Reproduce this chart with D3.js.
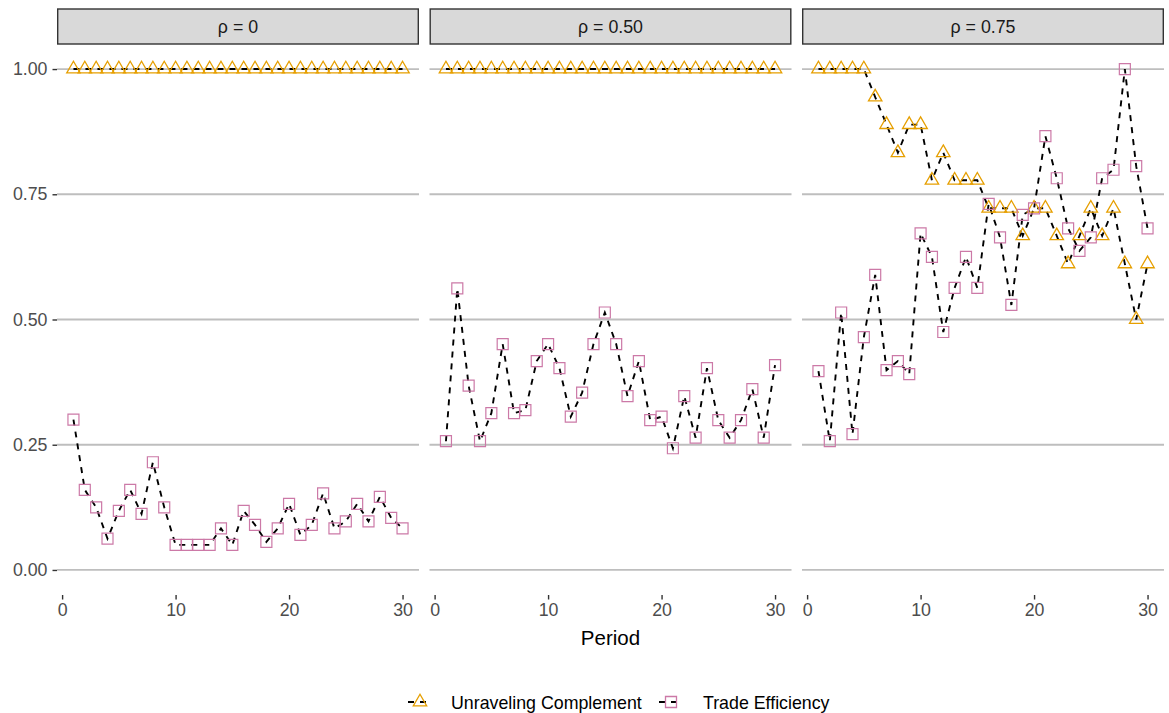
<!DOCTYPE html>
<html>
<head>
<meta charset="utf-8">
<script src="https://cdn.jsdelivr.net/npm/d3@7"></script>
<style>
  html, body { margin: 0; padding: 0; background: #ffffff; }
  svg { display: block; font-family: "Liberation Sans", Arial, sans-serif; }
</style>
</head>
<body>
<svg id="chart" width="1169" height="713"></svg>
<script>
// ---- data -------------------------------------------------------------
const periods = [1,2,3,4,5,6,7,8,9,10,11,12,13,14,15,16,17,18,19,20,21,22,23,24,25,26,27,28,29,30];
const panelLabels = ["ρ = 0", "ρ = 0.50", "ρ = 0.75"];
const seriesNames = ["Unraveling Complement", "Trade Efficiency"];

const unravelRho0  = [1,1,1,1,1,1,1,1,1,1,1,1,1,1,1,1,1,1,1,1,1,1,1,1,1,1,1,1,1,1];
const unravelRho50 = [1,1,1,1,1,1,1,1,1,1,1,1,1,1,1,1,1,1,1,1,1,1,1,1,1,1,1,1,1,1];
const unravelRho75 = [1,1,1,1,1,0.944,0.889,0.833,0.889,0.889,0.778,0.833,0.778,0.778,0.778,
                      0.722,0.722,0.722,0.667,0.722,0.722,0.667,0.611,0.667,0.722,0.667,0.722,0.611,0.5,0.611];

const tradeRho0  = [0.30,0.16,0.125,0.0625,0.118,0.16,0.112,0.215,0.125,0.05,0.05,0.05,0.05,0.083,0.05,
                    0.118,0.09,0.056,0.083,0.132,0.07,0.09,0.153,0.083,0.097,0.132,0.097,0.146,0.104,0.083];
const tradeRho50 = [0.257,0.562,0.368,0.257,0.313,0.451,0.313,0.319,0.417,0.451,0.403,0.306,0.354,0.451,0.514,
                    0.451,0.347,0.417,0.299,0.306,0.243,0.347,0.264,0.403,0.299,0.264,0.299,0.361,0.264,0.409];
const tradeRho75 = [0.397,0.257,0.514,0.271,0.465,0.589,0.399,0.417,0.391,0.672,0.625,0.475,0.563,0.625,0.563,
                    0.731,0.664,0.529,0.709,0.722,0.866,0.782,0.682,0.637,0.664,0.782,0.799,1.0,0.806,0.682];

const xTicks = [0, 10, 20, 30];
const yTicks = [0, 0.25, 0.50, 0.75, 1.00];

// ---- layout -----------------------------------------------------------
const svg = d3.select("#chart");
const colors = { "Unraveling Complement": "#E69F00", "Trade Efficiency": "#CC79A7" };
const panelLeft = 57, panelW = 362, panelGap = 10.5;
const panelTop = 44, panelBottom = 595;
const stripTop = 9;
const smallFont = 17.8;

const y = d3.scaleLinear().domain([-0.05, 1.05]).range([panelBottom, panelTop]);

const panels = [
  { label: panelLabels[0], unravel: unravelRho0,  trade: tradeRho0 },
  { label: panelLabels[1], unravel: unravelRho50, trade: tradeRho50 },
  { label: panelLabels[2], unravel: unravelRho75, trade: tradeRho75 }
];

const triangle = d3.symbol().type(d3.symbolTriangle).size(78);
const square = d3.symbol().type(d3.symbolSquare).size(121);

panels.forEach((p, i) => {
  const x0 = panelLeft + i * (panelW + panelGap);
  const x = d3.scaleLinear().domain([-0.45, 31.45]).range([x0, x0 + panelW]);
  const g = svg.append("g");

  // strip header
  g.append("rect")
    .attr("x", x0 + 0.7).attr("y", stripTop)
    .attr("width", panelW - 1.4).attr("height", panelTop - stripTop)
    .attr("fill", "#D9D9D9").attr("stroke", "#333333").attr("stroke-width", 1.4);
  g.append("text")
    .attr("x", x0 + panelW / 2).attr("y", (stripTop + panelTop) / 2 + 6.5)
    .attr("text-anchor", "middle").attr("font-size", smallFont).attr("fill", "#1A1A1A")
    .text(p.label);

  // horizontal gridlines
  g.selectAll("line.grid").data(yTicks).join("line")
    .attr("x1", x0).attr("x2", x0 + panelW)
    .attr("y1", d => y(d)).attr("y2", d => y(d))
    .attr("stroke", "#BEBEBE").attr("stroke-width", 1.8);

  // x axis
  const xa = g.append("g").attr("transform", `translate(0,${panelBottom})`)
    .call(d3.axisBottom(x).tickValues(xTicks).tickFormat(d3.format("d")).tickSize(4.5).tickPadding(4));
  xa.select(".domain").remove();
  xa.selectAll(".tick line").attr("stroke", "#333333").attr("stroke-width", 1.4);
  xa.selectAll(".tick text").attr("font-size", smallFont).attr("fill", "#4D4D4D")
    .attr("font-family", "Liberation Sans, Arial, sans-serif");

  // y axis on the first panel only
  if (i === 0) {
    const ya = g.append("g").attr("transform", `translate(${x0},0)`)
      .call(d3.axisLeft(y).tickValues(yTicks).tickFormat(d3.format(".2f")).tickSize(4.5).tickPadding(5));
    ya.select(".domain").remove();
    ya.selectAll(".tick line").attr("stroke", "#333333").attr("stroke-width", 1.4);
    ya.selectAll(".tick text").attr("font-size", smallFont).attr("fill", "#4D4D4D")
      .attr("font-family", "Liberation Sans, Arial, sans-serif");
  }

  const line = d3.line().x((d, k) => x(periods[k])).y(d => y(d));

  [p.unravel, p.trade].forEach(vals => {
    g.append("path").datum(vals)
      .attr("d", line).attr("fill", "none")
      .attr("stroke", "#000000").attr("stroke-width", 1.9)
      .attr("stroke-dasharray", "6,6");
  });

  g.selectAll("path.tri").data(p.unravel).join("path")
    .attr("transform", (d, k) => `translate(${x(periods[k])},${y(d)})`)
    .attr("d", triangle).attr("fill", "none")
    .attr("stroke", colors[seriesNames[0]]).attr("stroke-width", 1.3);

  g.selectAll("path.sq").data(p.trade).join("path")
    .attr("transform", (d, k) => `translate(${x(periods[k])},${y(d)})`)
    .attr("d", square).attr("fill", "none")
    .attr("stroke", colors[seriesNames[1]]).attr("stroke-width", 1.2);
});

// x axis title
svg.append("text")
  .attr("x", panelLeft + (3 * panelW + 2 * panelGap) / 2).attr("y", 645)
  .attr("text-anchor", "middle").attr("font-size", 20.5).attr("fill", "#000000")
  .text("Period");

// legend
const legendY = 702;
const legendItems = [
  { name: seriesNames[0], cx: 420, tx: 451, sym: triangle },
  { name: seriesNames[1], cx: 671, tx: 703, sym: square }
];
const lg = svg.append("g");
legendItems.forEach(it => {
  lg.append("line")
    .attr("x1", it.cx - 12).attr("x2", it.cx + 12)
    .attr("y1", legendY).attr("y2", legendY)
    .attr("stroke", "#000000").attr("stroke-width", 1.9)
    .attr("stroke-dasharray", "6,6");
  lg.append("path")
    .attr("transform", `translate(${it.cx},${legendY})`)
    .attr("d", it.sym).attr("fill", "none")
    .attr("stroke", colors[it.name]).attr("stroke-width", 1.3);
  lg.append("text")
    .attr("x", it.tx).attr("y", legendY + 6.5)
    .attr("font-size", smallFont).attr("fill", "#000000")
    .text(it.name);
});
</script>
</body>
</html>
